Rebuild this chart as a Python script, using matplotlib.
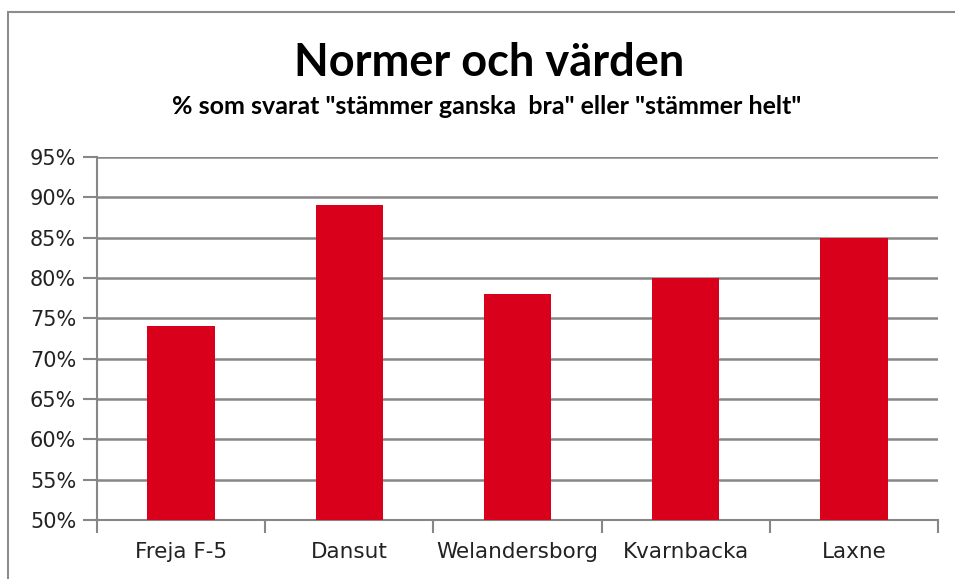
import matplotlib
matplotlib.use("Agg")
import matplotlib.pyplot as plt
from matplotlib.patches import Rectangle
from matplotlib.ticker import FuncFormatter, MultipleLocator, FixedLocator

categories = ["Freja F-5", "Dansut", "Welandersborg", "Kvarnbacka", "Laxne"]
values = [74, 89, 78, 80, 85]
title = "Normer och värden"
subtitle = '% som svarat "stämmer ganska  bra" eller "stämmer helt"'

W, H = 955, 579
fig = plt.figure(figsize=(W / 100, H / 100), dpi=100)
fig.patch.set_facecolor("white")

# outer frame
fig.patches.append(Rectangle((8 / W, -0.05), 1.2, 1 - 12 / H + 0.05, transform=fig.transFigure,
                             fill=False, edgecolor="#8c8c8c", linewidth=1.5))

ax = fig.add_axes([97 / W, 1 - 520 / H, (938 - 97) / W, (520 - 157) / H])
x = list(range(len(categories)))
ax.bar(x, values, width=0.4, bottom=0, color="#d9001b", zorder=3)
ax.set_xlim(-0.5, len(categories) - 0.5)
ax.set_ylim(50, 95)
ax.yaxis.set_major_locator(MultipleLocator(5))
ax.yaxis.set_major_formatter(FuncFormatter(lambda v, p: f"{int(round(v))}%"))
ax.grid(axis="y", color="#878787", linewidth=1.8, zorder=0)
for s in ["top", "right"]:
    ax.spines[s].set_visible(False)
for s in ["left", "bottom"]:
    ax.spines[s].set_color("#878787")
    ax.spines[s].set_linewidth(1.5)
ax.set_xticks(x)
ax.set_xticklabels(categories, fontsize=15.5, color="#222222", fontfamily="DejaVu Sans")
ax.tick_params(axis="x", which="major", length=0, pad=16)
ax.xaxis.set_minor_locator(FixedLocator([i - 0.5 for i in range(len(categories) + 1)]))
ax.tick_params(axis="x", which="minor", length=9, color="#878787", width=1.5)
ax.tick_params(axis="y", length=10, color="#878787", width=1.5, labelsize=15,
               labelcolor="#222222", pad=5)
for lab in ax.get_yticklabels():
    lab.set_fontfamily("DejaVu Sans")

fig.text(489 / W, 1 - 63 / H, title, ha="center", va="center", fontsize=32.5,
         fontweight="bold", fontfamily="Lato", color="black")
fig.text(487 / W, 1 - 106 / H, subtitle, ha="center", va="center", fontsize=18,
         fontweight="bold", fontfamily="Lato", color="black")

fig.savefig("out.png", dpi=100)
